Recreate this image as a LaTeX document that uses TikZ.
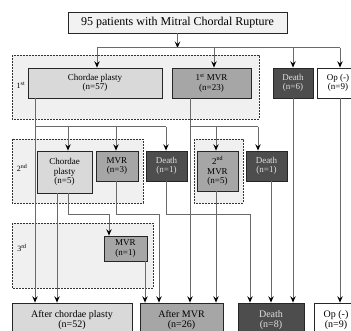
\documentclass[tikz,border=0pt]{standalone}
\usepackage{fontspec}
\setmainfont{Liberation Serif}
\usetikzlibrary{arrows.meta}
\definecolor{regfill}{HTML}{F0F0F0}
\definecolor{lightbox}{HTML}{D9D9D9}
\definecolor{midbox}{HTML}{A6A6A6}
\definecolor{darkbox}{HTML}{4D4D4D}
\definecolor{linegray}{HTML}{6A6A6A}
\definecolor{titlefill}{HTML}{F2F2F2}
\begin{document}
\begin{tikzpicture}[x=1pt,y=-1pt,
  region/.style={draw=black!80,dashed,dash pattern=on 2pt off 1pt,fill=regfill,line width=0.6pt},
  boxbase/.style={draw=black!85,line width=0.8pt,align=center,inner sep=0pt,anchor=center,
    font=\fontsize{9}{9.6}\selectfont},
  lbox/.style={boxbase,fill=lightbox},
  mbox/.style={boxbase,fill=midbox},
  dbox/.style={boxbase,fill=darkbox,text=black!12},
  wbox/.style={boxbase,fill=white},
  lineseg/.style={draw=linegray,line width=1pt},
  conn/.style={lineseg,-{Stealth[black,length=6.5pt,width=5.5pt,inset=2.5pt]}},
  lvl/.style={font=\fontsize{8}{9}\selectfont,inner sep=0pt}]
\useasboundingbox (0,0) rectangle (351,331);
\clip (0,0) rectangle (351,331);
% regions
\draw[region] (12,55) rectangle (259,119);
\draw[region] (12,139) rectangle (143,203);
\draw[region] (194,139) rectangle (243,203);
\draw[region] (12,223) rectangle (153,288);
\node[lvl] (l1) at (21,85) {1\textsuperscript{st}};
\node[lvl] (l2) at (22,168) {2\textsuperscript{nd}};
\node[lvl] (l3) at (22,248) {3\textsuperscript{rd}};
% boxes
\node[boxbase,fill=titlefill,minimum width=219pt,minimum height=21pt,font=\fontsize{12}{13}\selectfont] (top) at (177.5,22.5) {95 patients with Mitral Chordal Rupture};
\node[lbox,minimum width=134pt,minimum height=30pt] (cp1) at (95,83) {Chordae plasty\\(n=57)};
\node[mbox,minimum width=79pt,minimum height=30pt] (mvr1) at (211.5,83) {1\textsuperscript{st} MVR\\(n=23)};
\node[dbox,minimum width=40pt,minimum height=30pt] (d1) at (293,83) {Death\\(n=6)};
\node[wbox,minimum width=42pt,minimum height=30pt] (op1) at (338,83) {Op (-)\\(n=9)};
\node[lbox,minimum width=55pt,minimum height=42pt] (cp2) at (64.5,172) {Chordae\\plasty\\(n=5)};
\node[mbox,minimum width=42pt,minimum height=30pt] (mvr2) at (117,166) {MVR\\(n=3)};
\node[dbox,minimum width=41pt,minimum height=30pt] (d2) at (166.5,166) {Death\\(n=1)};
\node[mbox,minimum width=41pt,minimum height=40pt] (mvr2b) at (217.5,171) {2\textsuperscript{nd}\\MVR\\(n=5)};
\node[dbox,minimum width=41pt,minimum height=30pt] (d2b) at (266.5,166) {Death\\(n=1)};
\node[mbox,minimum width=43pt,minimum height=25pt] (mvr3) at (125.5,248.5) {MVR\\(n=1)};
\node[lbox,minimum width=120pt,minimum height=34pt,font=\fontsize{10}{10.5}\selectfont] (acp) at (72,320) {After chordae plasty\\(n=52)};
\node[mbox,minimum width=83pt,minimum height=34pt,font=\fontsize{10}{10.5}\selectfont] (amvr) at (181.5,320) {After MVR\\(n=26)};
\node[dbox,minimum width=66pt,minimum height=34pt,font=\fontsize{10}{10.5}\selectfont] (dB) at (271,320) {Death\\(n=8)};
\node[wbox,minimum width=44pt,minimum height=34pt,font=\fontsize{10}{10.5}\selectfont] (opB) at (336,320) {Op (-)\\(n=9)};
% bus from title
\coordinate (b1) at (97,48);
\coordinate (b2) at (340,48);
\draw[conn] (top.south) -- (top.south |- b1);
\draw[lineseg] (b1) -- (b2);
\draw[conn] (b1) -- (b1 |- cp1.north);
\draw[conn] (214,48) -- (mvr1.north -| 214,0);
\draw[conn] (293,48) -- (d1.north);
\draw[conn] (b2) -- (b2 |- op1.north);
% from chordae plasty 1st
\draw[conn] (cp1.south -| 35,0) -- (acp.north -| 35,0);
\draw[lineseg] (35,127) -- (166,127);
\draw[conn] (68,127) -- (cp2.north -| 68,0);
\draw[conn] (116,127) -- (mvr2.north -| 116,0);
\draw[conn] (166,127) -- (d2.north -| 166,0);
% from 1st MVR
\draw[conn] (mvr1.south -| 190,0) -- (amvr.north -| 190,0);
\draw[lineseg] (190,127) -- (258,127);
\draw[conn] (216,127) -- (mvr2b.north -| 216,0);
\draw[conn] (258,127) -- (d2b.north -| 258,0);
% death and op(-)
\draw[conn] (d1.south) -- (dB.north -| d1.south);
\draw[conn] (op1.south -| 340,0) -- (opB.north -| 340,0);
% 2nd level
\draw[conn] (cp2.south -| 57,0) -- (acp.north -| 57,0);
\draw[conn] (cp2.south -| 68,0) |- (109,215) -- (mvr3.north -| 109,0);
\draw[conn] (mvr2.south -| 116,0) |- (159,215) -- (amvr.north -| 159,0);
\draw[conn] (d2.south -| 166,0) |- (250,215) -- (dB.north -| 250,0);
\draw[conn] (mvr2b.south -| 216,0) -- (amvr.north -| 216,0);
\draw[conn] (d2b.south -| 271,0) -- (dB.north -| 271,0);
% 3rd level
\draw[conn] (mvr3.south -| 145,0) -- (amvr.north -| 145,0);
\end{tikzpicture}
\end{document}
